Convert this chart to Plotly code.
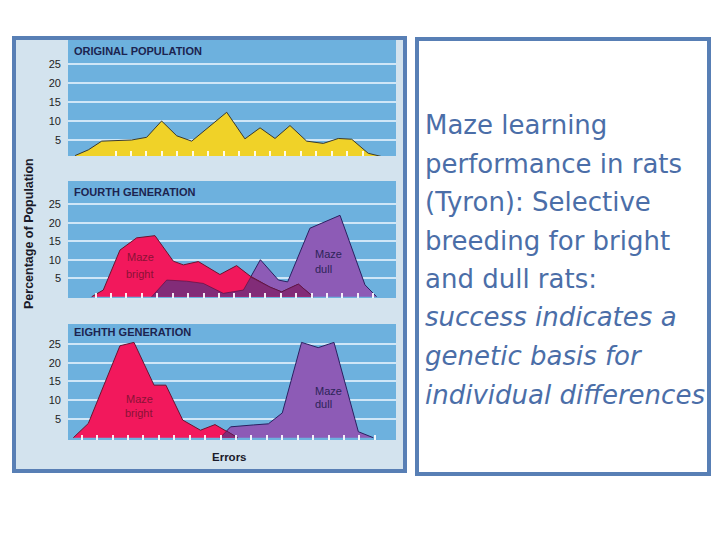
import plotly.graph_objects as go

# ------------------------------------------------------------------ data
# x = number of errors (in tick units of the original figure), y = % of population
orig_errors = [-0.43, 0.43, 1.30, 2.27, 3.24, 4.21, 5.18, 6.16, 7.13, 9.40, 10.58,
               11.56, 12.53, 13.50, 14.58, 15.66, 16.63, 17.50, 18.57, 20.09]
orig_pct = [0.9, 2.4, 4.7, 4.9, 5.0, 5.7, 10.0, 6.1, 4.7, 12.3, 5.3,
            8.2, 5.4, 8.8, 4.7, 4.1, 5.4, 5.2, 1.5, 0.0]

g4_bright_errors = [0.65, 1.40, 2.48, 3.56, 4.75, 5.94, 6.59, 7.56, 8.96, 10.04,
                    10.91, 12.20, 12.96, 14.04, 15.00]
g4_bright_pct = [0.0, 1.8, 12.6, 15.9, 16.5, 9.6, 8.6, 9.5, 6.0, 8.4,
                 5.6, 2.6, 1.3, 3.4, 0.0]
g4_dull_errors = [4.54, 5.51, 6.80, 7.88, 9.18, 10.48, 11.58, 12.75, 13.35,
                  14.79, 16.74, 18.36, 19.11]
g4_dull_pct = [0.0, 4.5, 4.2, 3.6, 0.9, 1.8, 10.0, 4.5, 4.0,
               18.5, 22.0, 3.2, 0.0]
g4_overlap_errors = [4.54, 5.51, 6.80, 7.88, 9.18, 10.48, 10.96, 12.20, 12.96, 14.04, 15.00]
g4_overlap_pct = [0.0, 4.5, 4.2, 3.6, 0.9, 1.8, 5.3, 2.6, 1.3, 3.4, 0.0]

g8_bright_errors = [-0.54, 0.43, 2.48, 3.39, 4.69, 5.46, 6.55, 7.70, 8.64, 10.10]
g8_bright_pct = [0.0, 3.8, 24.5, 25.4, 14.0, 14.0, 4.7, 2.0, 3.5, 0.0]
g8_dull_errors = [8.97, 9.65, 11.12, 12.10, 13.00, 14.25, 15.33, 16.35, 17.93, 18.90]
g8_dull_pct = [0.0, 2.9, 3.4, 3.7, 6.6, 25.4, 24.0, 25.4, 1.6, 0.0]
g8_overlap_errors = [8.97, 9.40, 10.10]
g8_overlap_pct = [0.0, 1.8, 0.0]

y_tick_vals = [5, 10, 15, 20, 25]
y_tick_text = ["5", "10", "15", "20", "25"]
orig_x_ticks = [2.2, 3.2, 4.2, 5.2, 6.2, 7.2, 8.2, 9.2, 10.2, 11.2, 12.2, 13.2,
                14.2, 15.2, 16.2, 17.2, 18.2]
g4_x_ticks = [0.9, 1.9, 2.9, 3.9, 4.9, 5.9, 6.9, 7.9, 8.9, 9.9, 10.9, 11.9, 12.9,
              13.9, 14.9, 15.9, 16.9, 17.9, 18.9]
g8_x_ticks = [0, 1, 2, 3, 4, 5, 6, 7, 8, 9, 10, 11, 12, 13, 14, 15, 16, 17, 18, 19]

panel_titles = ["ORIGINAL POPULATION", "FOURTH GENERATION", "EIGHTH GENERATION"]
y_title = "Percentage of Population"
x_title = "Errors"

caption_plain = ["Maze learning", "performance in rats", "(Tyron): Selective",
                 "breeding for bright", "and dull rats:"]
caption_italic = ["success indicates a", "genetic basis for", "individual differences"]

# ------------------------------------------------------------------ styles
W, H = 720, 540
BORDER = "#587fb5"
PANEL_BG = "#d3e3ee"
PLOT_BG = "#6db1de"
YELLOW = "#f0d228"
RED = "#f2185c"
PURPLE = "#8d5bb6"
OVERLAP = "#822c78"
NAVY = "#1c2450"
TEXT_BLUE = "#4b6ea8"
FONT = "Liberation Sans, Arial, sans-serif"


def px(x):
    return x / W


def py(y):
    return 1 - y / H


fig = go.Figure()


def area(xs, ys, color, line_color, axis, lw=1.0):
    fig.add_trace(go.Scatter(
        x=xs, y=ys, mode="lines", fill="tozeroy", fillcolor=color,
        line=dict(color=line_color, width=lw), xaxis=axis[0], yaxis=axis[1],
        hoverinfo="skip", showlegend=False))


area(orig_errors, orig_pct, YELLOW, "#3b3a2c", ("x", "y"))
area(g4_dull_errors, g4_dull_pct, PURPLE, "#2a2060", ("x2", "y2"))
area(g4_bright_errors, g4_bright_pct, RED, "#6a1430", ("x2", "y2"))
area(g4_overlap_errors, g4_overlap_pct, OVERLAP, "#4a1040", ("x2", "y2"), 0.6)
area(g8_dull_errors, g8_dull_pct, PURPLE, "#2a2060", ("x3", "y3"))
area(g8_bright_errors, g8_bright_pct, RED, "#6a1430", ("x3", "y3"))
area(g8_overlap_errors, g8_overlap_pct, OVERLAP, "#4a1040", ("x3", "y3"), 0.6)

x_dom = [px(68), px(396)]
x_range = [-0.886, 20.37]
y_doms = [[py(156), py(40)], [py(298), py(181)], [py(440), py(324)]]
y_ranges = [[0.79, 31.3], [-0.35, 31.27], [-0.61, 30.3]]
x_ticks = [orig_x_ticks, g4_x_ticks, g8_x_ticks]

layout = dict(
    width=W, height=H, margin=dict(l=0, r=0, t=0, b=0),
    paper_bgcolor="white", plot_bgcolor="rgba(0,0,0,0)",
    showlegend=False,
)
for i in range(3):
    sx = "" if i == 0 else str(i + 1)
    layout["xaxis" + sx] = dict(
        domain=x_dom, range=x_range, anchor="y" + sx, showgrid=False,
        zeroline=False, showline=False, ticks="inside", ticklen=5,
        tickwidth=1.5, tickcolor="rgba(255,255,255,0.9)", tickvals=x_ticks[i],
        showticklabels=False, fixedrange=True)
    layout["yaxis" + sx] = dict(
        domain=y_doms[i], range=y_ranges[i], anchor="x" + sx,
        tickvals=y_tick_vals, ticktext=y_tick_text, ticks="",
        showgrid=True, gridcolor="rgba(240,248,255,0.75)", gridwidth=1.5,
        zeroline=False, showline=False, ticklabelstandoff=6,
        tickfont=dict(family=FONT, size=11, color="#1e1e1e"), fixedrange=True)
fig.update_layout(**layout)

shapes = [
    dict(type="rect", xref="paper", yref="paper", x0=px(14), x1=px(405),
         y0=py(471), y1=py(38), fillcolor=PANEL_BG,
         line=dict(color=BORDER, width=4), layer="below"),
]
for i in range(3):
    sx = "" if i == 0 else str(i + 1)
    shapes.append(dict(type="rect", xref="x" + sx + " domain", yref="y" + sx + " domain",
                       x0=0, x1=1, y0=0, y1=1, fillcolor=PLOT_BG,
                       line=dict(width=0), layer="below"))
shapes.append(dict(type="rect", xref="paper", yref="paper", x0=px(417), x1=px(709),
                   y0=py(474), y1=py(39), fillcolor="white",
                   line=dict(color=BORDER, width=4), layer="below"))
fig.update_layout(shapes=shapes)

ann = []
title_y = [51, 192, 332]
for t, yy in zip(panel_titles, title_y):
    ann.append(dict(text="<b>" + t + "</b>", x=px(72), y=py(yy), xref="paper", yref="paper",
                    xanchor="left", yanchor="middle", showarrow=False,
                    font=dict(family=FONT, size=11, color=NAVY)))

ann.append(dict(text="<b>" + y_title + "</b>", x=px(29), y=py(234), xref="paper",
                yref="paper", textangle=-90, showarrow=False, xanchor="center",
                yanchor="middle", font=dict(family=FONT, size=12.5, color="#1a1a2a")))
ann.append(dict(text="<b>" + x_title + "</b>", x=px(229), y=py(457), xref="paper",
                yref="paper", showarrow=False, xanchor="center", yanchor="middle",
                font=dict(family=FONT, size=11.5, color="#1a1a2a")))

# in-chart labels (data coordinates)
lab_font_b = dict(family=FONT, size=11, color="#8a1236")
lab_font_d = dict(family=FONT, size=11, color="#2c2458")
labels = [
    ("Maze", 3.78, 10.8, "x2", "y2", "center", lab_font_b),
    ("bright", 3.78, 6.2, "x2", "y2", "center", lab_font_b),
    ("Maze", 15.0, 11.6, "x2", "y2", "left", lab_font_d),
    ("dull", 15.0, 7.5, "x2", "y2", "left", lab_font_d),
    ("Maze", 3.74, 10.25, "x3", "y3", "center", lab_font_b),
    ("bright", 3.74, 6.5, "x3", "y3", "center", lab_font_b),
    ("Maze", 15.0, 12.5, "x3", "y3", "left", lab_font_d),
    ("dull", 15.0, 8.9, "x3", "y3", "left", lab_font_d),
]
for txt, xx, yy, xr, yr, anc, f in labels:
    ann.append(dict(text=txt, x=xx, y=yy, xref=xr, yref=yr, xanchor=anc,
                    yanchor="middle", showarrow=False, font=f))

# caption text box on the right
cap_font = dict(family="DejaVu Sans, sans-serif", size=26, color=TEXT_BLUE)
line_y = [125, 163.5, 202, 240.5, 279, 317.5, 356, 394.5]
all_lines = caption_plain + ["<i>" + s + "</i>" for s in caption_italic]
for s, yy in zip(all_lines, line_y):
    ann.append(dict(text=s, x=px(423), y=py(yy), xref="paper", yref="paper",
                    xanchor="left", yanchor="middle", showarrow=False, font=cap_font))

fig.update_layout(annotations=ann)
fig.write_html("out.html")
